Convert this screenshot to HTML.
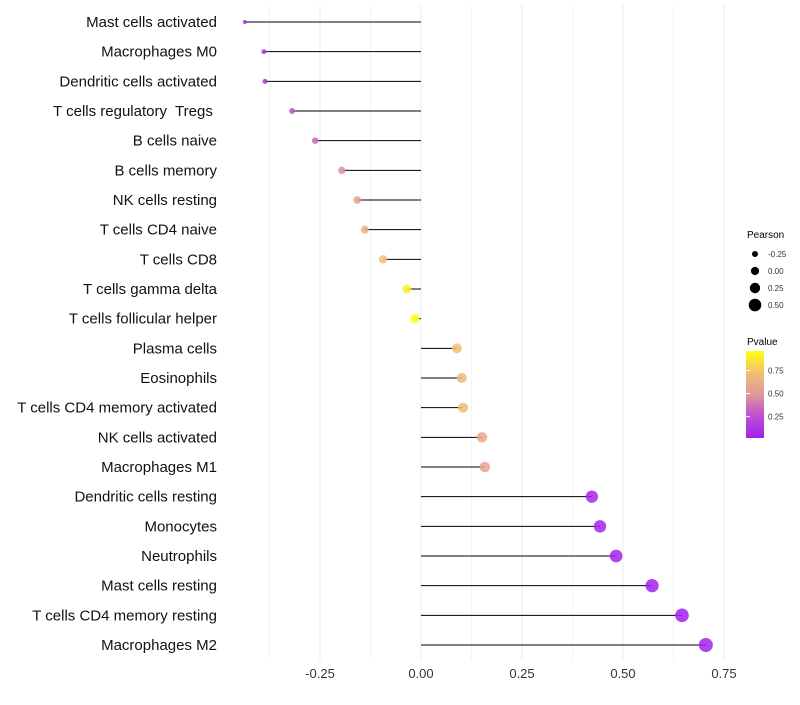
<!DOCTYPE html>
<html><head><meta charset="utf-8"><style>
body{margin:0;background:#fff;font-family:"Liberation Sans",sans-serif;}
svg text{font-family:"Liberation Sans",sans-serif;white-space:pre;}
</style></head><body>
<svg id="chart" width="800" height="700">
<defs><linearGradient id="pg" x1="0" y1="1" x2="0" y2="0">
<stop offset="0" stop-color="#a020f0"/><stop offset="0.3" stop-color="#c45ac8"/><stop offset="0.5" stop-color="#e0989c"/><stop offset="0.75" stop-color="#f2c070"/><stop offset="1" stop-color="#ffff10"/></linearGradient></defs>
<g id="grid"></g><g id="marks"></g><g id="labels"></g><g id="xaxis"></g>
<g>
<text x="747" y="238" font-size="10">Pearson</text>
<g id="sizeleg"></g>
<text x="747" y="345" font-size="10">Pvalue</text>
<rect x="746" y="351" width="18" height="87" fill="url(#pg)"/>
<g id="colleg"></g>
</g>
</svg>
<script>
const categories=["Mast cells activated","Macrophages M0","Dendritic cells activated","T cells regulatory  Tregs ","B cells naive","B cells memory","NK cells resting","T cells CD4 naive","T cells CD8","T cells gamma delta","T cells follicular helper","Plasma cells","Eosinophils","T cells CD4 memory activated","NK cells activated","Macrophages M1","Dendritic cells resting","Monocytes","Neutrophils","Mast cells resting","T cells CD4 memory resting","Macrophages M2"];
const pearson=[-0.436,-0.389,-0.386,-0.319,-0.262,-0.196,-0.158,-0.139,-0.094,-0.035,-0.015,0.089,0.101,0.104,0.151,0.158,0.423,0.443,0.483,0.572,0.646,0.705];
const pvalues=[0.05,0.1,0.1,0.25,0.35,0.48,0.58,0.64,0.75,0.95,1.0,0.75,0.72,0.72,0.6,0.58,0.03,0.03,0.02,0.01,0.01,0.005];
const xTicks=[-0.25,0,0.25,0.5,0.75];
const xTickLabels=["-0.25","0.00","0.25","0.50","0.75"];
const sizeLegend=[-0.25,0,0.25,0.5];
const sizeLegendLabels=["-0.25","0.00","0.25","0.50"];
const colLegend=[0.25,0.5,0.75];
const colLegendLabels=["0.25","0.50","0.75"];

const NS="http://www.w3.org/2000/svg";
const X=v=>421+v*404;
const Y=i=>22+i*(623/21);
const R=v=>Math.sqrt(Math.max(3,21.4+39.5*v));
const PY=p=>438-(p-0.02)*(87/0.94);
function lerp(a,b,t){return a.map((x,i)=>Math.round(x+(b[i]-x)*t));}
const stops=[[0,[160,32,240]],[0.3,[196,90,200]],[0.5,[224,152,156]],[0.75,[242,192,112]],[1,[255,255,16]]];
function col(p){for(let i=1;i<stops.length;i++){if(p<=stops[i][0]){const t=(p-stops[i-1][0])/(stops[i][0]-stops[i-1][0]);return "rgb("+lerp(stops[i-1][1],stops[i][1],t).join(",")+")";}}return "rgb(255,255,16)";}
function el(tag,attrs,parent){const e=document.createElementNS(NS,tag);for(const k in attrs)e.setAttribute(k,attrs[k]);document.getElementById(parent).appendChild(e);return e;}

for(let v=-0.375;v<=0.751;v+=0.125){const g=el("line",{x1:X(v),x2:X(v),y1:5,y2:660,stroke:Math.abs((v*8)%2)<0.01?"#ebebeb":"#f3f3f3","stroke-width":1},"grid");

}
xTicks.forEach((t,i)=>{const tx=el("text",{x:X(t),y:678,"font-size":13,"text-anchor":"middle",fill:"#333"},"xaxis");tx.textContent=xTickLabels[i];

});
categories.forEach((c,i)=>{
const y=Y(i);
const ln=el("line",{x1:X(0),x2:X(pearson[i]),y1:y,y2:y,stroke:"#000","stroke-width":1},"marks");


const pt=el("circle",{cx:X(pearson[i]),cy:y,r:R(pearson[i]),fill:col(pvalues[i]),"fill-opacity":0.85},"marks");


const lb=el("text",{x:217,y:y+5,"font-size":15,"text-anchor":"end",fill:"#111"},"labels");
lb.textContent=c;


});
sizeLegend.forEach((v,i)=>{const y=254+i*17;
const c=el("circle",{cx:755,cy:y,r:3+i*1.1,fill:"#000"},"sizeleg");


const t=el("text",{x:768,y:y+3,"font-size":8,fill:"#333"},"sizeleg");t.textContent=sizeLegendLabels[i];

});
colLegend.forEach((p,i)=>{const y=PY(p);
const tk=el("line",{x1:746,x2:750,y1:y,y2:y,stroke:"#fff"},"colleg");


const t=el("text",{x:768,y:y+3,"font-size":8,fill:"#333"},"colleg");t.textContent=colLegendLabels[i];

});
</script>
</body></html>
